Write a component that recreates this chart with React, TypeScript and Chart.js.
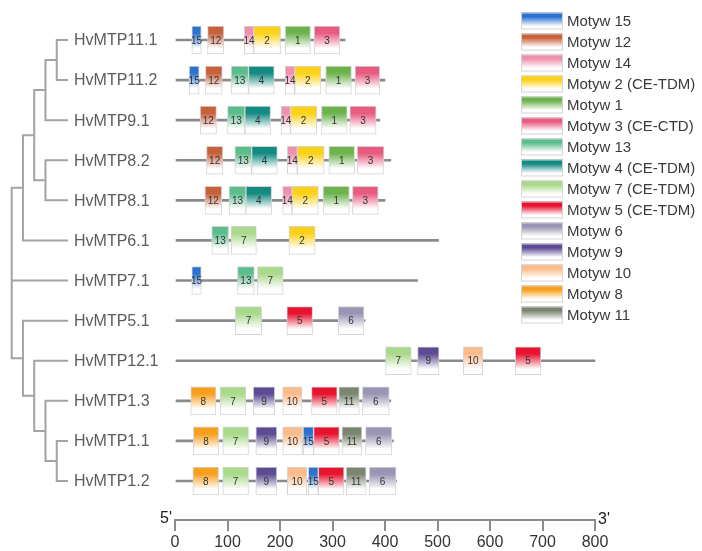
import React, { useEffect, useRef } from 'react';
import { Chart, registerables } from 'chart.js';

Chart.register(...registerables);
Chart.defaults.font.family = '"Liberation Sans", Arial, Helvetica, sans-serif';

// ---------- data ----------
const geneNames = [
  'HvMTP11.1', 'HvMTP11.2', 'HvMTP9.1', 'HvMTP8.2', 'HvMTP8.1', 'HvMTP6.1',
  'HvMTP7.1', 'HvMTP5.1', 'HvMTP12.1', 'HvMTP1.3', 'HvMTP1.1', 'HvMTP1.2',
];
const geneLengths = [324, 400, 390, 411, 400, 502, 462, 362, 800, 411, 416, 422];
const xTicks = [0, 100, 200, 300, 400, 500, 600, 700, 800];

const motifIds = [15, 12, 14, 2, 1, 3, 13, 4, 7, 5, 6, 9, 10, 8, 11];
const motifNames = [
  'Motyw 15', 'Motyw 12', 'Motyw 14', 'Motyw 2 (CE-TDM)', 'Motyw 1', 'Motyw 3 (CE-CTD)',
  'Motyw 13', 'Motyw 4 (CE-TDM)', 'Motyw 7 (CE-TDM)', 'Motyw 5 (CE-TDM)', 'Motyw 6',
  'Motyw 9', 'Motyw 10', 'Motyw 8', 'Motyw 11',
];
const motifColors = [
  '#2a72d0', '#c9603c', '#f090ae', '#fcd116', '#6cb34c', '#e95a80',
  '#5cbd8c', '#138a82', '#a9d98a', '#e8132f', '#9995b4',
  '#5c4a94', '#fcbb8a', '#f8a01e', '#7b8670',
];

// [motif, start, end] per gene
const motifsHvMTP11_1 = [[15, 32, 50], [12, 62, 93], [14, 132, 150], [2, 150, 201], [1, 210, 258], [3, 265, 314]];
const motifsHvMTP11_2 = [[15, 27, 46], [12, 58, 90], [13, 107, 140], [4, 140, 189], [14, 210, 228], [2, 228, 278], [1, 287, 336], [3, 343, 390]];
const motifsHvMTP9_1 = [[12, 48, 79], [13, 100, 133], [4, 133, 182], [14, 202, 220], [2, 220, 270], [1, 279, 328], [3, 333, 383]];
const motifsHvMTP8_2 = [[12, 60, 91], [13, 114, 146], [4, 146, 195], [14, 214, 233], [2, 233, 284], [1, 293, 342], [3, 347, 398]];
const motifsHvMTP8_1 = [[12, 57, 89], [13, 103, 135], [4, 135, 184], [14, 205, 223], [2, 223, 273], [1, 282, 332], [3, 338, 387]];
const motifsHvMTP6_1 = [[13, 70, 102], [7, 107, 155], [2, 217, 267]];
const motifsHvMTP7_1 = [[15, 32, 50], [13, 119, 151], [7, 157, 206]];
const motifsHvMTP5_1 = [[7, 115, 165], [5, 213, 262], [6, 311, 360]];
const motifsHvMTP12_1 = [[7, 401, 450], [9, 462, 503], [10, 549, 586], [5, 648, 697]];
const motifsHvMTP1_3 = [[8, 30, 78], [7, 86, 135], [9, 149, 190], [10, 205, 242], [5, 260, 309], [11, 312, 351], [6, 357, 408]];
const motifsHvMTP1_1 = [[8, 35, 83], [7, 91, 140], [9, 154, 194], [10, 205, 243], [15, 244, 264], [5, 264, 313], [11, 318, 356], [6, 363, 413]];
const motifsHvMTP1_2 = [[8, 34, 83], [7, 91, 140], [9, 154, 194], [10, 214, 251], [15, 254, 273], [5, 273, 322], [11, 326, 364], [6, 370, 421]];

const geneMotifs = [
  motifsHvMTP11_1, motifsHvMTP11_2, motifsHvMTP9_1, motifsHvMTP8_2, motifsHvMTP8_1, motifsHvMTP6_1,
  motifsHvMTP7_1, motifsHvMTP5_1, motifsHvMTP12_1, motifsHvMTP1_3, motifsHvMTP1_1, motifsHvMTP1_2,
];

// cladogram: internal nodes with depth level; children are node ids or gene row indices
const treeNodes: { id: string; level: number; children: (string | number)[] }[] = [
  { id: 'G', level: 0, children: ['E', 6, 'H'] },
  { id: 'E', level: 1, children: ['C', 5] },
  { id: 'C', level: 2, children: ['B', 'D'] },
  { id: 'B', level: 3, children: ['A', 2] },
  { id: 'A', level: 4, children: [0, 1] },
  { id: 'D', level: 3, children: [3, 4] },
  { id: 'H', level: 1, children: [7, 'I'] },
  { id: 'I', level: 2, children: [8, 'K'] },
  { id: 'K', level: 3, children: [9, 'J'] },
  { id: 'J', level: 4, children: [10, 11] },
];
const leafLevel = 5;

// ---------- helpers ----------
const nodeMap: Record<string, { id: string; level: number; children: (string | number)[] }> = {};
treeNodes.forEach((n) => { nodeMap[n.id] = n; });
function nodeY(c: string | number): number {
  if (typeof c === 'number') return c;
  const ys = nodeMap[c].children.map(nodeY);
  return (ys[0] + ys[ys.length - 1]) / 2;
}
function nodeLevel(c: string | number): number {
  return typeof c === 'number' ? leafLevel : nodeMap[c].level;
}

function gradientFor(color: string) {
  return (ctx: any) => {
    const chart = ctx.chart;
    const ys = chart.scales && chart.scales.y;
    if (ctx.type !== 'data' || !ys || !ctx.raw) return color;
    const cy = ys.getPixelForValue(ctx.raw.y);
    if (!Number.isFinite(cy)) return color;
    const g = chart.ctx.createLinearGradient(0, cy - 14, 0, cy + 14);
    g.addColorStop(0, color);
    g.addColorStop(0.25, color);
    g.addColorStop(0.8, '#ffffff');
    g.addColorStop(1, '#ffffff');
    return g;
  };
}

function buildDatasets() {
  const ds: any[] = [];
  // motif boxes
  motifIds.forEach((m, k) => {
    const data: any[] = [];
    geneMotifs.forEach((list, row) => {
      list.forEach(([id, s, e]) => {
        if (id === m) data.push({ y: row, x: [s, e] });
      });
    });
    ds.push({
      type: 'bar',
      label: motifNames[k],
      motifLabel: String(m),
      indexAxis: 'y',
      xAxisID: 'x',
      yAxisID: 'y',
      data,
      grouped: false,
      maxBarThickness: 28,
      barPercentage: 1,
      categoryPercentage: 1,
      backgroundColor: gradientFor(motifColors[k]),
      borderColor: '#d4d4d4',
      borderWidth: 1,
      borderSkipped: false,
      order: 0,
    });
  });
  // gene backbones
  ds.push({
    type: 'bar',
    label: 'genes',
    indexAxis: 'y',
    xAxisID: 'x',
    yAxisID: 'y',
    data: geneLengths.map((len, row) => ({ y: row, x: [0, len] })),
    grouped: false,
    maxBarThickness: 2,
    barPercentage: 1,
    categoryPercentage: 1,
    backgroundColor: '#8a8a8a',
    borderWidth: 0,
    order: 2,
  });
  // tree
  const treeLine = (pts: { x: number; y: number }[]) => ({
    type: 'line',
    label: 'tree',
    indexAxis: 'x',
    xAxisID: 'xt',
    yAxisID: 'y',
    data: pts,
    borderColor: '#a3a3a3',
    borderWidth: 2,
    pointRadius: 0,
    tension: 0,
    fill: false,
    order: 3,
  });
  treeNodes.forEach((n) => {
    const first = n.children[0];
    const last = n.children[n.children.length - 1];
    ds.push(treeLine([
      { x: nodeLevel(first), y: nodeY(first) },
      { x: n.level, y: nodeY(first) },
      { x: n.level, y: nodeY(last) },
      { x: nodeLevel(last), y: nodeY(last) },
    ]));
    n.children.slice(1, -1).forEach((c) => {
      ds.push(treeLine([{ x: n.level, y: nodeY(c) }, { x: nodeLevel(c), y: nodeY(c) }]));
    });
  });
  return ds;
}

const decorPlugin = {
  id: 'decor',
  afterDatasetsDraw(chart: any) {
    const { ctx, chartArea } = chart;
    const x = chart.scales.x;
    const y = chart.scales.y;
    const xt = chart.scales.xt;
    ctx.save();

    // axis baseline
    const ay = chartArea.bottom;
    const x0 = x.getPixelForValue(xTicks[0]);
    const x1 = x.getPixelForValue(xTicks[xTicks.length - 1]);
    ctx.strokeStyle = '#8c8c8c';
    ctx.lineWidth = 2;
    ctx.beginPath();
    ctx.moveTo(x0 - 1, ay);
    ctx.lineTo(x1 + 1, ay);
    ctx.stroke();

    ctx.fillStyle = '#222';
    ctx.font = '16px "Liberation Sans", Arial, sans-serif';
    ctx.textBaseline = 'alphabetic';
    ctx.textAlign = 'right';
    ctx.fillText("5'", x0 - 3, ay + 3);
    ctx.textAlign = 'left';
    ctx.fillText("3'", x1 + 3, ay + 4);

    // motif numbers
    ctx.font = '10px "Liberation Sans", Arial, sans-serif';
    ctx.fillStyle = '#333';
    ctx.textAlign = 'center';
    ctx.textBaseline = 'middle';
    chart.data.datasets.forEach((ds: any, di: number) => {
      if (!ds.motifLabel) return;
      const meta = chart.getDatasetMeta(di);
      meta.data.forEach((el: any) => {
        const p = el.getProps(['x', 'base', 'y'], true);
        ctx.fillText(ds.motifLabel, (p.x + p.base) / 2, p.y + 1);
      });
    });

    // gene names
    ctx.font = '16px "Liberation Sans", Arial, sans-serif';
    ctx.fillStyle = '#5c5c5c';
    ctx.textAlign = 'left';
    const lx = xt.getPixelForValue(leafLevel) + 6;
    geneNames.forEach((name, i) => {
      ctx.fillText(name, lx, y.getPixelForValue(i) + 1);
    });

    // legend
    ctx.font = '15px "Liberation Sans", Arial, sans-serif';
    motifNames.forEach((name, i) => {
      const cy = 21 + 21 * i;
      const sx = 521, sw = 42, sh = 17;
      const top = cy - sh / 2;
      const g = ctx.createLinearGradient(0, top, 0, top + sh);
      g.addColorStop(0, motifColors[i]);
      g.addColorStop(0.25, motifColors[i]);
      g.addColorStop(0.8, '#ffffff');
      g.addColorStop(1, '#ffffff');
      ctx.fillStyle = g;
      ctx.fillRect(sx, top, sw, sh);
      ctx.strokeStyle = '#d4d4d4';
      ctx.lineWidth = 1;
      ctx.strokeRect(sx + 0.5, top + 0.5, sw - 1, sh - 1);
      ctx.fillStyle = '#3a3a3a';
      ctx.fillText(name, 567, cy + 1);
    });

    ctx.restore();
  },
};

export default function App() {
  const canvasRef = useRef<HTMLCanvasElement | null>(null);

  useEffect(() => {
    const canvas = canvasRef.current;
    if (!canvas) return;
    const chart = new Chart(canvas, {
      type: 'bar',
      data: { datasets: buildDatasets() } as any,
      options: {
        responsive: false,
        maintainAspectRatio: false,
        animation: false,
        events: [],
        layout: { padding: 0 },
        plugins: { legend: { display: false }, tooltip: { enabled: false } },
        scales: {
          x: {
            type: 'linear',
            position: 'bottom',
            offset: false,
            min: -333.33,
            max: 1003.8,
            afterBuildTicks: (s: any) => { s.ticks = xTicks.map((v) => ({ value: v })); },
            afterFit: (s: any) => { s.height = 31; },
            grid: { offset: false, drawOnChartArea: false, drawTicks: true, tickLength: 11, color: '#8c8c8c', lineWidth: 2 },
            border: { display: false },
            ticks: { font: { size: 16 }, color: '#333', padding: 2, autoSkip: false, maxRotation: 0 },
          },
          y: {
            type: 'linear',
            display: false,
            offset: false,
            reverse: true,
            min: -0.9977,
            max: 11.973,
            afterBuildTicks: (s: any) => { s.ticks = geneNames.map((_, i) => ({ value: i })); },
          },
          xt: {
            type: 'linear',
            axis: 'x',
            display: false,
            offset: false,
            min: -1.039,
            max: 61.3,
          },
        },
      } as any,
      plugins: [decorPlugin],
    });
    return () => chart.destroy();
  }, []);

  return (
    <div style={{ position: 'absolute', left: 0, top: 0, width: 702, height: 551, background: '#fff' }}>
      <canvas ref={canvasRef} width={702} height={551} style={{ width: 702, height: 551, display: 'block' }} />
    </div>
  );
}
